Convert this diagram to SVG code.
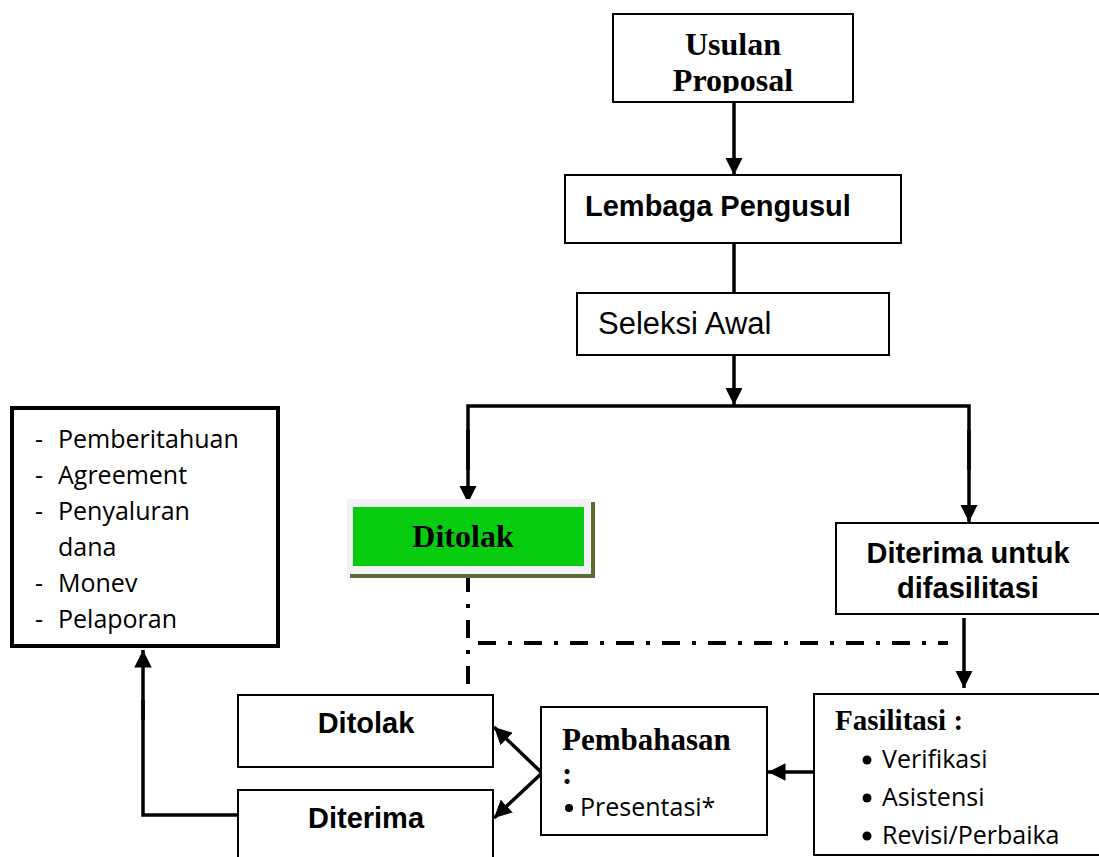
<svg xmlns="http://www.w3.org/2000/svg" width="1099" height="857" viewBox="0 0 1099 857">
<defs>
<marker id="ah" viewBox="0 0 10 10" refX="10" refY="5" markerWidth="5" markerHeight="5" orient="auto" markerUnits="strokeWidth">
<path d="M0,0 L10,5 L0,10 z" fill="#000"/>
</marker>
<clipPath id="cpU"><rect x="613" y="14" width="240" height="79"/></clipPath>
<style>
.box{fill:#fff;stroke:#000;stroke-width:2}
.ln{fill:none;stroke:#000;stroke-width:3.5}
.dd{fill:none;stroke:#000;stroke-width:4;stroke-dasharray:18,12,4,12}
.serifb{font-family:"Liberation Serif",serif;font-weight:bold;fill:#000}
.sansb{font-family:"Liberation Sans",Arial,sans-serif;font-weight:bold;fill:#000}
.sans{font-family:"Liberation Sans",Arial,sans-serif;fill:#000}
.cal{font-family:"Open Sans","Noto Sans",sans-serif;fill:#000;font-size:25px}
</style>
</defs>
<rect width="1099" height="857" fill="#fff"/>

<g id="connectors">
<line class="ln" x1="734" y1="102" x2="734" y2="175" marker-end="url(#ah)"/>
<line class="ln" x1="734" y1="243" x2="734" y2="293"/>
<line class="ln" x1="734" y1="355" x2="734" y2="405" marker-end="url(#ah)"/>
<polyline class="ln" points="468,470 468,406 969,406 969,470" />
<line class="ln" x1="468" y1="430" x2="468" y2="503" marker-end="url(#ah)"/>
<line class="ln" x1="969" y1="430" x2="969" y2="522" marker-end="url(#ah)"/>
<line class="dd" x1="468" y1="574" x2="468" y2="692"/>
<line class="dd" x1="478" y1="643" x2="948" y2="643"/>
<line class="ln" x1="964" y1="618" x2="964" y2="688" marker-end="url(#ah)"/>
<line class="ln" x1="814" y1="772" x2="768" y2="772" marker-end="url(#ah)"/>
<line class="ln" x1="542" y1="773" x2="494" y2="727" marker-end="url(#ah)"/>
<line class="ln" x1="542" y1="773" x2="494" y2="818" marker-end="url(#ah)"/>
<polyline class="ln" points="238,815 143,815 143,700"/>
<line class="ln" x1="143" y1="720" x2="143" y2="650" marker-end="url(#ah)"/>
</g>

<g id="usulan">
<rect class="box" x="613" y="14" width="240" height="88"/>
<g clip-path="url(#cpU)">
<text class="serifb" font-size="32" x="733" y="55" text-anchor="middle">Usulan</text>
<text class="serifb" font-size="32" x="733" y="91" text-anchor="middle">Proposal</text>
</g>
</g>

<g id="lembaga">
<rect class="box" x="565" y="175" width="336" height="68"/>
<text class="sansb" font-size="29" x="585" y="216">Lembaga Pengusul</text>
</g>

<g id="seleksi">
<rect class="box" x="577" y="293" width="312" height="62"/>
<text class="sans" font-size="31" x="598" y="334">Seleksi Awal</text>
</g>

<g id="ditolak1">
<rect x="350" y="502" width="245" height="76" fill="#5a6b35"/>
<rect x="347" y="499" width="244" height="75" fill="#f2f2f2"/>
<rect x="353" y="507" width="231" height="59" fill="#08cc10"/>
<text class="serifb" font-size="32" x="463" y="547" text-anchor="middle">Ditolak</text>
</g>

<g id="diterimaUntuk">
<rect class="box" x="836" y="523" width="270" height="91"/>
<text class="sansb" font-size="29" x="968" y="563" text-anchor="middle">Diterima untuk</text>
<text class="sansb" font-size="29" x="968" y="598" text-anchor="middle">difasilitasi</text>
</g>

<g id="fasilitasi">
<rect class="box" x="814" y="694" width="290" height="161"/>
<text class="serifb" font-size="29" x="835" y="730">Fasilitasi :</text>
<circle cx="867" cy="760" r="4.5"/>
<text class="cal" x="882" y="768">Verifikasi</text>
<circle cx="867" cy="798" r="4.5"/>
<text class="cal" x="882" y="806">Asistensi</text>
<circle cx="867" cy="836" r="4.5"/>
<text class="cal" x="882" y="844">Revisi/Perbaika</text>
</g>

<g id="pembahasan">
<rect class="box" x="541" y="707" width="226" height="128"/>
<text class="serifb" font-size="31" x="562" y="750">Pembahasan</text>
<text class="serifb" font-size="31" x="562" y="784">:</text>
<circle cx="569" cy="808" r="4"/>
<text class="cal" font-size="26" x="580" y="816">Presentasi*</text>
</g>

<g id="ditolak2">
<rect class="box" x="238" y="695" width="255" height="72"/>
<text class="sansb" font-size="29" x="366" y="733" text-anchor="middle">Ditolak</text>
</g>

<g id="diterima">
<rect class="box" x="238" y="790" width="255" height="80"/>
<text class="sansb" font-size="29" x="366" y="828" text-anchor="middle">Diterima</text>
</g>

<g id="list">
<rect x="12" y="408" width="266" height="238" fill="#fff" stroke="#000" stroke-width="4"/>
<text class="cal" x="35" y="448">-</text><text class="cal" x="58" y="448">Pemberitahuan</text>
<text class="cal" x="35" y="484">-</text><text class="cal" x="58" y="484">Agreement</text>
<text class="cal" x="35" y="520">-</text><text class="cal" x="58" y="520">Penyaluran</text>
<text class="cal" x="58" y="556">dana</text>
<text class="cal" x="35" y="592">-</text><text class="cal" x="58" y="592">Monev</text>
<text class="cal" x="35" y="628">-</text><text class="cal" x="58" y="628">Pelaporan</text>
</g>
</svg>
